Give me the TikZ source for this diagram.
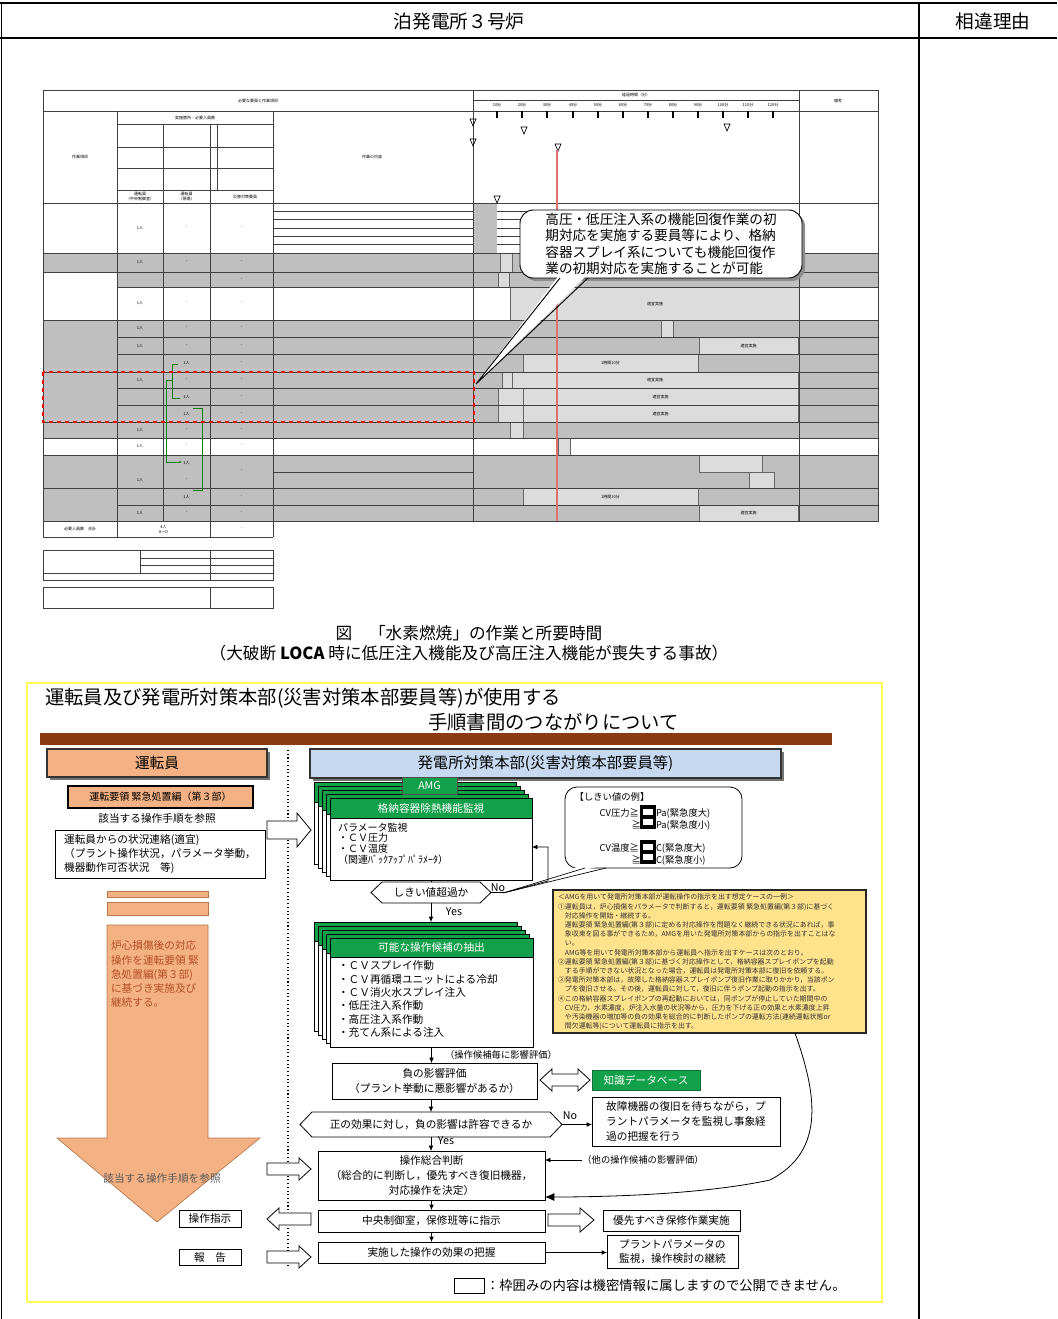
\documentclass[tikz,border=0pt]{standalone}
\usepackage{fontspec}
\setmainfont{Noto Sans CJK JP}
\usetikzlibrary{arrows.meta,calc}
\definecolor{salmon}{HTML}{F4B183}
\definecolor{salmonline}{HTML}{B9774A}
\definecolor{hqblue}{HTML}{C6D9F1}
\definecolor{amggreen}{HTML}{12A04A}
\definecolor{noteyellow}{HTML}{FFE38C}
\definecolor{frameyellow}{HTML}{FFFF55}
\definecolor{brownbar}{HTML}{8B3A12}
\definecolor{tgray}{HTML}{BFBFBF}
\definecolor{tlight}{HTML}{DCDCDC}
\definecolor{arrowtext}{HTML}{B5502A}
\definecolor{redline}{HTML}{E07070}
\newcommand\rbox[7][]{\node[inner sep=0pt,outer sep=0pt,minimum width={0.75pt*(#5-#3)},minimum height={0.75pt*(#6-#4)},#1] (#2) at ({(#3+#5)/2},{(#4+#6)/2}) {#7};}
\newcommand\barrow[6]{\draw[fill=white,line width=0.6pt] (#1,{#3-#4}) -- ({#2-(#6)},{#3-#4}) -- ({#2-(#6)},{#3-#5}) -- (#2,#3) -- ({#2-(#6)},{#3+#5}) -- ({#2-(#6)},{#3+#4}) -- (#1,{#3+#4}) -- cycle;}
\newcommand\tri[2]{\draw[line width=0.5pt] ({#1-3},{#2-4}) -- ({#1+3},{#2-4}) -- (#1,{#2+3}) -- cycle;}
\tikzset{
  every node/.style={inner sep=0pt,outer sep=0pt},
  flow/.style={-{Latex[length=4pt,width=3.5pt]},line width=0.5pt},
  tline/.style={line width=0.4pt,draw=black!75},
  ttxt/.style={font=\fontsize{3}{3.6}\selectfont,align=center},
  fA/.style={font=\fontsize{8}{10}\selectfont},
  bar/.style={fill=tlight,draw=black!60,line width=0.3pt},
}
\begin{document}
\begin{tikzpicture}[x=0.75pt,y=-0.75pt]
\useasboundingbox (0,0) rectangle (1057,1319);
\fill[white] (0,0) rectangle (1057,1319);
% ---------------- page frame
\draw[line width=1.1pt] (0,3) -- (1057,3);
\draw[line width=1.6pt] (0,38) -- (1057,38);
\draw[line width=1.1pt] (919,3) -- (919,1319);
\draw[line width=0.8pt] (1.5,3) -- (1.5,1319);
\node[font=\fontsize{14}{16}\selectfont] (hdrA) at (459,21) {泊発電所３号炉};
\node[font=\fontsize{14}{16}\selectfont] (hdrB) at (993,21) {相違理由};

% ---------------- table backgrounds
\fill[tgray] (43,253) rectangle (878,287);
\fill[tgray] (43,320) rectangle (878,438);
\fill[tgray] (43,455) rectangle (878,521);
\fill[white] (43,272) rectangle (117,320);
\fill[tgray] (473,203) rectangle (497,253);
% bars
\draw[bar] (500,253) rectangle (512,272);
\draw[bar] (498,272) rectangle (509,287);
\draw[bar] (510,287) rectangle (799,320);
\draw[bar] (661,320) rectangle (673,337);
\draw[bar] (699,337) rectangle (798,354);
\draw[bar] (523,354) rectangle (698,372);
\draw[bar] (502,372) rectangle (512,388);
\draw[bar] (512,372) rectangle (798,388);
\draw[bar] (498,388) rectangle (523,405);
\draw[bar] (523,388) rectangle (798,405);
\draw[bar] (498,405) rectangle (523,422);
\draw[bar] (523,405) rectangle (798,422);
\draw[bar] (510,422) rectangle (523,438);
\draw[bar] (558,438) rectangle (570,455);
\draw[bar] (699,455) rectangle (762,472);
\draw[bar] (749,472) rectangle (774,488);
\draw[bar] (523,488) rectangle (698,505);
\draw[bar] (699,505) rectangle (798,521);
\node[ttxt] (b1) at (655,303.5) {適宜実施};
\node[ttxt] (b2) at (748.5,345.5) {適宜実施};
\node[ttxt] (b3) at (610.5,363) {1時間10分};
\node[ttxt] (b4) at (655,380) {適宜実施};
\node[ttxt] (b5) at (660.5,396.5) {適宜実施};
\node[ttxt] (b6) at (660.5,413.5) {適宜実施};
\node[ttxt] (b7) at (610.5,496.5) {1時間10分};
\node[ttxt] (b8) at (748.5,513) {適宜実施};
% grid
\draw[tline] (43,90) rectangle (878,521);
\draw[tline] (43,111) -- (878,111);
\draw[tline] (473,100) -- (799,100);
\foreach \yy in {124,147,168,190} {\draw[tline] (117,\yy) -- (273,\yy);}
\draw[tline] (43,203) -- (878,203);
\foreach \yy in {253,272,320,372,422,438,455,488} {\draw[tline] (43,\yy) -- (878,\yy);}
\foreach \yy in {287,337,354,388,405,505} {\draw[tline] (117,\yy) -- (878,\yy);}
\draw[tline] (273,472) -- (473,472);
\foreach \yy in {211,219,228,236,244} {\draw[tline] (273,\yy) -- (473,\yy); \draw[tline] (497,\yy) -- (530,\yy);}
\draw[tline] (117,111) -- (117,537);
\draw[tline] (163,124) -- (163,521);
\draw[tline] (210,124) -- (210,537);
\draw[tline] (217,124) -- (217,190);
\draw[tline] (273,111) -- (273,537);
\draw[tline] (473,90) -- (473,521);
\draw[tline] (799,90) -- (799,521);
\draw[tline] (43,521) -- (43,537) -- (273,537);
\foreach \xx in {497,522,547,573,598,623,648,673,698,723,748,773} {\draw[line width=1pt] (\xx,111) -- (\xx,118);}
\foreach \xx/\lab in {497/10分,522/20分,547/30分,573/40分,598/50分,623/60分,648/70分,673/80分,698/90分,723/100分,748/110分,773/120分} {\node[ttxt] at (\xx,105.5) {\lab};}
% header texts
\node[ttxt] (th1) at (258,100.5) {必要な要員と作業項目};
\node[ttxt] (th2) at (80,157) {作業項目};
\node[ttxt] (th3) at (195,117.5) {実施箇所・必要人員数};
\node[ttxt] (th4) at (372,157) {作業の内容};
\node[ttxt] (th5) at (636,95) {経過時間（分）};
\node[ttxt] (th6) at (838,100.5) {備考};
\node[ttxt] (th7) at (140,196.5) {運転員\\（中央制御室）};
\node[ttxt] (th8) at (186.5,196.5) {運転員\\（現場）};
\node[ttxt] (th9) at (245,196.5) {災害対策要員};
\foreach \yy in {228,262,303,328,346,380,430,446,480,513} {\node[ttxt] at (140,\yy) {1人};}
\foreach \yy in {228,262,303,328,346,380,430,446,480,513} {\node[ttxt] at (186.5,\yy) {-};}
\foreach \yy in {228,262,280,303,328,346,363,380,397,414,430,446,471,497,513} {\node[ttxt] at (241.5,\yy) {-};}
\foreach \yy/\xx in {363/186.5,397/186.5,414/186.5,463/186.5,497/186.5} {\node[ttxt] at (\xx,\yy) {1人};}
\node[ttxt] (tt1) at (80,529) {必要人員数　合計};
\node[ttxt] (tt2) at (163.5,529) {4人\\A～D};
\node[ttxt] (tt3) at (241.5,529) {-};
% green links
\draw[green!50!black,line width=0.6pt] (178,364) -- (172,364) -- (172,398) -- (180,398);
\draw[green!50!black,line width=0.6pt,-{Latex[length=2pt]}] (172,380) -- (166,380) -- (166,462) -- (182,462);
\draw[green!50!black,line width=0.6pt] (193,408) -- (202,408) -- (202,490) -- (193,490);
% notes under table
\draw[tline] (43,550) rectangle (273,580);
\draw[tline] (140,550) -- (140,573);
\draw[tline] (210,550) -- (210,580);
\draw[tline] (140,558) -- (273,558);
\draw[tline] (140,565) -- (273,565);
\draw[tline] (43,573) -- (273,573);
\draw[tline] (43,587) rectangle (273,608);
\draw[tline] (210,587) -- (210,608);
% markers
\tri{473}{123}\tri{473}{143}\tri{524}{131}\tri{558}{148}\tri{727}{128}\tri{497}{200}
\draw[redline,line width=0.8pt] (557,150) -- (557,521);
\draw[red,dashed,line width=1.6pt] (43,372) rectangle (474,422);
% callout
\fill[black!45,rounded corners=10] (523,213) rectangle (805,281);
\draw[fill=white,line width=0.7pt,rounded corners=10] (520,210) rectangle (802,278);
\fill[white] (560,274) -- (588,274) -- (476,384) -- cycle;
\draw[line width=0.7pt] (560,278) -- (476,384) -- (588,278);
\node[font=\fontsize{10.2}{12.4}\selectfont,align=left] (callout) at (661,244) {高圧・低圧注入系の機能回復作業の初\\期対応を実施する要員等により、格納\\容器スプレイ系についても機能回復作\\業の初期対応を実施することが可能};
% caption
\node[font=\fontsize{12.5}{14}\selectfont] (capA) at (469,633) {図　「水素燃焼」の作業と所要時間};
\node[font=\fontsize{12.5}{14}\selectfont] (capB) at (469,653) {（大破断 \textbf{LOCA} 時に低圧注入機能及び高圧注入機能が喪失する事故）};

% ---------------- lower section
\draw[frameyellow,line width=2pt] (27,683) rectangle (882,1302);
\node[font=\fontsize{14.5}{16}\selectfont,anchor=west] (ttlA) at (45,698) {運転員及び発電所対策本部(災害対策本部要員等)が使用する};
\node[font=\fontsize{14.5}{16}\selectfont,anchor=west] (ttlB) at (428,722) {手順書間のつながりについて};
\fill[brownbar] (40,733) rectangle (832,745);
\fill[black!55] (50,752) rectangle (270,780);
\rbox[draw=black!80,line width=1pt,fill=salmon,font=\fontsize{11}{13}\selectfont]{opbox}{47}{749}{267}{777}{運転員}
\fill[black!55] (313,752) rectangle (784,781);
\rbox[draw=black!80,line width=1pt,fill=hqblue,font=\fontsize{11.5}{13}\selectfont]{hqbox}{310}{749}{781}{778}{発電所対策本部(災害対策本部要員等)}
\draw[dotted,line width=0.8pt] (288,750) -- (288,1268);
% operator column
\rbox[draw,line width=2pt,fill=salmon,font=\fontsize{7.5}{9}\selectfont]{manual}{68}{786}{253}{808}{運転要領 緊急処置編（第３部）}
\node[fA] (ref1) at (157,818) {該当する操作手順を参照};
\rbox[draw,fill=white,line width=0.6pt,align=left,font=\fontsize{8}{10.5}\selectfont]{report}{55}{830}{265}{878}{運転員からの状況連絡(適宜)\\（プラント操作状況，パラメータ挙動，\\機器動作可否状況　等)}
\draw[fill=salmon,draw=salmonline,line width=0.5pt] (107,891) rectangle (208,897);
\draw[fill=salmon,draw=salmonline,line width=0.5pt] (107,902) rectangle (208,915);
\draw[fill=salmon,draw=salmonline,line width=0.5pt] (107,925) -- (208,925) -- (208,1138) -- (260,1138) -- (157,1222) -- (57,1138) -- (107,1138) -- cycle;
\node[anchor=north west,align=left,text=arrowtext,font=\fontsize{8}{10.6}\selectfont] (optext) at (111,941) {炉心損傷後の対応\\操作を運転要領 緊\\急処置編(第３部)\\に基づき実施及び\\継続する。};
\node[fA,text=black!65] (ref2) at (162,1178) {該当する操作手順を参照};
\rbox[draw,fill=white,line width=0.6pt,fA]{cmd}{179}{1210}{241}{1227}{操作指示}
\rbox[draw,fill=white,line width=0.6pt,fA]{rep}{179}{1249}{241}{1265}{報　告}
\barrow{267}{311}{830}{9}{17}{14}
\barrow{267}{311}{1169}{6}{11}{12}
\barrow{311}{267}{1219}{6}{11}{-12}
\barrow{267}{311}{1257}{6}{11}{12}
% stack 1
\foreach \d in {16,12,8,4} {
  \draw[fill=white,line width=0.5pt] ({330-\d},{798-\d}) rectangle ({532-\d},{880-\d});
  \draw[fill=amggreen,line width=0.5pt] ({330-\d},{798-\d}) rectangle ({532-\d},{818-\d});
}
\rbox[draw=black!70,fill=amggreen,text=white,line width=0.5pt,font=\fontsize{8}{9}\selectfont]{amg}{402}{777}{457}{794}{AMG}
\rbox[draw,fill=white,line width=0.6pt]{mon}{330}{798}{532}{880}{}
\rbox[draw,fill=amggreen,text=white,line width=0.6pt,fA]{monhead}{330}{798}{532}{818}{格納容器除熱機能監視}
\node[anchor=north west,align=left,font=\fontsize{7.5}{7.9}\selectfont] (montext) at (338,823) {パラメータ監視\\・ＣＶ圧力\\・ＣＶ温度\\（関連ﾊﾞｯｸｱｯﾌﾟﾊﾟﾗﾒｰﾀ）};
% hex 1
\draw[fill=white,line width=0.6pt] (371,892.5) -- (382,882) -- (480,882) -- (491,892.5) -- (480,903) -- (382,903) -- cycle;
\node[fA,minimum width={0.75pt*120},minimum height={0.75pt*21}] (hex1) at (431,892.5) {しきい値超過か};
\node[fA] (noA) at (498,888) {No};
\node[fA] (yesA) at (454,912) {Yes};
% threshold callout
\draw[fill=white,line width=0.6pt,rounded corners=9] (565,787) rectangle (742,868);
\fill[white] (585,864) -- (606,864) -- (503,893) -- cycle;
\draw[line width=0.5pt] (585,868) -- (503,893) -- (606,868);
\node[font=\fontsize{7}{8}\selectfont] (thr0) at (612,797) {【しきい値の例】};
\node[font=\fontsize{7}{8}\selectfont,anchor=east] (thr1) at (639,813) {CV圧力≧};
\node[font=\fontsize{7}{8}\selectfont,anchor=east] (thr2) at (641,825) {≧};
\node[font=\fontsize{7}{8}\selectfont,anchor=west] (thr3) at (656,813) {Pa(緊急度大)};
\node[font=\fontsize{7}{8}\selectfont,anchor=west] (thr4) at (656,825) {Pa(緊急度小)};
\node[font=\fontsize{7}{8}\selectfont,anchor=east] (thr5) at (639,848) {CV温度≧};
\node[font=\fontsize{7}{8}\selectfont,anchor=east] (thr6) at (641,860) {≧};
\node[font=\fontsize{7}{8}\selectfont,anchor=west] (thr7) at (656,848) {C(緊急度大)};
\node[font=\fontsize{7}{8}\selectfont,anchor=west] (thr8) at (656,860) {C(緊急度小)};
\foreach \yy in {805,840} {
  \fill[black] (640,\yy) rectangle (656,{\yy+24});
  \fill[white] (643,{\yy+4}) rectangle (653,{\yy+10});
  \fill[white] (643,{\yy+14}) rectangle (653,{\yy+20});
}
% No loop
\coordinate (nA) at (505,892.5);
\coordinate (nB) at (548,881);
\coordinate (nC) at (548,847);
\draw[flow] (hex1.east) -- (nA) -- (nB) -- (nC) -- (nC -| mon.east);
% stack 2
\foreach \d in {16,12,8,4} {
  \draw[fill=white,line width=0.5pt] ({330-\d},{938-\d}) rectangle ({533-\d},{1047-\d});
  \draw[fill=amggreen,line width=0.5pt] ({330-\d},{938-\d}) rectangle ({533-\d},{957-\d});
}
\rbox[draw,fill=white,line width=0.6pt]{cand}{330}{938}{533}{1047}{}
\rbox[draw,fill=amggreen,text=white,line width=0.6pt,fA]{candhead}{330}{938}{533}{957}{可能な操作候補の抽出}
\node[anchor=north west,align=left,font=\fontsize{8}{10}\selectfont] (candtext) at (338,961) {・ＣＶスプレイ作動\\・ＣＶ再循環ユニットによる冷却\\・ＣＶ消火水スプレイ注入\\・低圧注入系作動\\・高圧注入系作動\\・充てん系による注入};
\coordinate (stk2) at (431,922);
\draw[flow] (hex1.south) -- (stk2);
\draw[line width=0.5pt] (mon.south -| hex1.north) -- (hex1.north);
% note
\rbox[draw=black!85,line width=1.5pt,fill=noteyellow]{note}{553}{890}{866}{1033}{}
\node[anchor=north west,align=left,font=\fontsize{5.2}{6.9}\selectfont,text=black!80] (notetext) at (558,894) {＜AMGを用いて発電所対策本部が運転操作の指示を出す想定ケースの一例＞\\①運転員は，炉心損傷をパラメータで判断すると，運転要領 緊急処置編(第３部)に基づく\\　対応操作を開始・継続する。\\　運転要領 緊急処置編(第３部)に定める対応操作を問題なく継続できる状況にあれば，事\\　象収束を図る事ができるため，AMGを用いた発電所対策本部からの指示を出すことはな\\　い。\\　AMG等を用いて発電所対策本部から運転員へ指示を出すケースは次のとおり。\\②運転要領 緊急処置編(第３部)に基づく対応操作として，格納容器スプレイポンプを起動\\　する手順ができない状況となった場合，運転員は発電所対策本部に復旧を依頼する。\\③発電所対策本部は，故障した格納容器スプレイポンプ復旧作業に取りかかり，当該ポン\\　プを復旧させる。その後，運転員に対して，復旧に伴うポンプ起動の指示を出す。\\④この格納容器スプレイポンプの再起動においては，同ポンプが停止していた期間中の\\　CV圧力，水素濃度，炉注入水量の状況等から，圧力を下げる正の効果と水素濃度上昇\\　や汚染機器の増加等の負の効果を総合的に判断したポンプの運転方法(連続運転状態or\\　間欠運転等)について運転員に指示を出す。};
% lower flow
\node[font=\fontsize{7}{8}\selectfont] (evalnote) at (501,1055) {（操作候補毎に影響評価）};
\rbox[draw,fill=white,line width=0.6pt,align=center,font=\fontsize{8}{11}\selectfont]{eval}{332}{1063}{537}{1099}{負の影響評価\\（プラント挙動に悪影響があるか）}
\draw[fill=white,line width=0.6pt] (540,1080) -- (552,1069) -- (552,1074) -- (578,1074) -- (578,1069) -- (590,1080) -- (578,1091) -- (578,1086) -- (552,1086) -- (552,1091) -- cycle;
\rbox[draw=amggreen!70!black,fill=amggreen,text=white,line width=0.6pt,fA]{kdb}{592}{1070}{700}{1090}{知識データベース}
\draw[fill=white,line width=0.6pt] (300,1124.5) -- (312,1112) -- (550,1112) -- (562,1124.5) -- (550,1137) -- (312,1137) -- cycle;
\node[fA,minimum width={0.75pt*262},minimum height={0.75pt*25}] (hex2) at (431,1124.5) {正の効果に対し，負の影響は許容できるか};
\node[fA] (noB) at (570,1116) {No};
\node[fA] (yesB) at (446,1141) {Yes};
\rbox[draw,fill=white,line width=0.6pt,align=left,font=\fontsize{8}{11}\selectfont]{wait}{592}{1097}{780}{1146}{故障機器の復旧を待ちながら，プ\\ラントパラメータを監視し事象経\\過の把握を行う}
\rbox[draw,fill=white,line width=0.6pt,align=center,font=\fontsize{8}{11}\selectfont]{judge}{318}{1151}{545}{1200}{操作総合判断\\（総合的に判断し，優先すべき復旧機器，\\対応操作を決定）}
\node[font=\fontsize{7}{8}\selectfont] (other) at (643,1160) {（他の操作候補の影響評価）};
\rbox[draw,fill=white,line width=0.6pt,fA]{instr}{318}{1210}{545}{1232}{中央制御室，保修班等に指示}
\barrow{548}{594}{1220}{6}{12}{14}
\rbox[draw,fill=white,line width=0.6pt,fA]{maint}{603}{1210}{740}{1231}{優先すべき保修作業実施}
\rbox[draw,fill=white,line width=0.6pt,fA]{effect}{318}{1242}{545}{1263}{実施した操作の効果の把握}
\rbox[draw,fill=white,line width=0.6pt,align=left,font=\fontsize{8}{10.5}\selectfont]{cont}{607}{1235}{738}{1268}{プラントパラメータの\\監視，操作検討の継続}
\draw[flow] (cand.south) -- (cand.south |- eval.north);
\draw[flow] (eval.south -| hex2.north) -- (hex2.north);
\draw[flow] (hex2.south) -- (hex2.south |- judge.north);
\draw[flow] (hex2.east) -- (hex2.east -| wait.west);
\draw[flow] (other.west) -- (other.west -| judge.east);
\draw[flow] (judge.south -| instr.north) -- (instr.north);
\draw[flow] (instr.south) -- (effect.north);
\draw[flow] (effect.east) -- (effect.east -| cont.west);
\draw[-{Latex[length=7pt,width=6pt]},line width=0.6pt] ($(note.south west)+(242,0)$) .. controls (815,1090) and (828,1150) .. (770,1180) .. controls (700,1195) and (600,1197) .. ($(judge.south east)+(0,-3)$);
% footer
\draw[line width=0.6pt] (454,1278) rectangle (484,1293);
\node[font=\fontsize{10}{12}\selectfont,anchor=west] (foot) at (486,1285.5) {：枠囲みの内容は機密情報に属しますので公開できません。};
\end{tikzpicture}
\end{document}
